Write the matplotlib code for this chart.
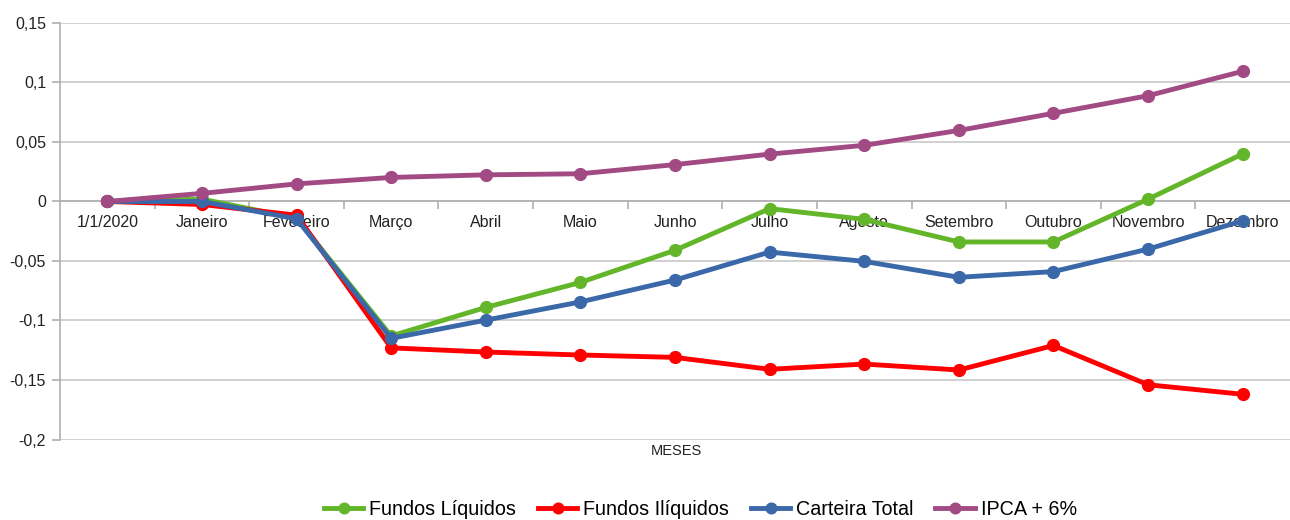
import numpy as np
import matplotlib
matplotlib.use("Agg")
import matplotlib.pyplot as plt
from matplotlib.ticker import FixedLocator, FuncFormatter

# categorias do eixo x
meses = ['1/1/2020', 'Janeiro', 'Fevereiro', 'Março', 'Abril', 'Maio', 'Junho',
         'Julho', 'Agosto', 'Setembro', 'Outubro', 'Novembro', 'Dezembro']

# series (rentabilidade acumulada)
fundos_liquidos = [0.0, 0.002, -0.014, -0.113, -0.089, -0.068, -0.041,
                   -0.006, -0.015, -0.034, -0.034, 0.002, 0.040]
fundos_iliquidos = [0.0, -0.0025, -0.0115, -0.123, -0.1265, -0.129, -0.131,
                    -0.141, -0.1366, -0.1416, -0.121, -0.154, -0.162]
carteira_total = [0.0, 0.0, -0.0145, -0.115, -0.0997, -0.0844, -0.066,
                  -0.0425, -0.0503, -0.0637, -0.0589, -0.040, -0.0162]
ipca_6 = [0.0, 0.0068, 0.0148, 0.0202, 0.0224, 0.0233, 0.031,
          0.0398, 0.0472, 0.0597, 0.0741, 0.0889, 0.1094]

plt.rcParams['font.family'] = ['Liberation Sans', 'DejaVu Sans']


def fmt_br(v, pos):
    v = round(v, 2) + 0.0
    if abs(v) < 1e-9:
        return '0'
    return ('%g' % v).replace('.', ',')


fig = plt.figure(figsize=(12.9, 5.2), dpi=100)
ax = fig.add_axes([0.0465, 0.1548, 0.9535, 0.801])

x = np.arange(len(meses))
series = [
    (fundos_liquidos, '#63b62a', 'Fundos Líquidos'),
    (fundos_iliquidos, '#ff0000', 'Fundos Ilíquidos'),
    (carteira_total, '#3a68a8', 'Carteira Total'),
    (ipca_6, '#a24a84', 'IPCA + 6%'),
]
for vals, cor, nome in series:
    ax.plot(x, vals, color=cor, lw=3.5, marker='o', ms=8.5, label=nome,
            solid_joinstyle='round', zorder=3)

ax.set_xlim(-0.5, len(meses) - 0.5)
ax.set_ylim(-0.2, 0.15)
ax.set_yticks(np.arange(-0.2, 0.151, 0.05))
ax.yaxis.set_major_formatter(FuncFormatter(fmt_br))
ax.grid(axis='y', color='#c8c8c8', lw=1.2, zorder=0)

ax.set_xticks(x)
ax.set_xticklabels(meses)
ax.xaxis.set_minor_locator(FixedLocator(np.arange(0.5, len(meses) - 1, 1)))
ax.tick_params(axis='x', which='major', length=0, pad=10, labelsize=11.5,
               labelcolor='#222222')
ax.tick_params(axis='x', which='minor', length=6, color='#b0b0b0', width=1.2)
ax.tick_params(axis='y', length=6, color='#b0b0b0', width=1.2, labelsize=11.5,
               labelcolor='#222222', pad=4)

ax.spines['top'].set_visible(False)
ax.spines['right'].set_visible(False)
ax.spines['left'].set_color('#b0b0b0')
ax.spines['left'].set_linewidth(1.2)
ax.spines['bottom'].set_position(('data', 0))
ax.spines['bottom'].set_color('#b0b0b0')
ax.spines['bottom'].set_linewidth(1.2)

fig.text(0.524, 0.132, 'MESES', ha='center', va='center', fontsize=10.5,
         color='#222222')

fig.legend(loc='center', bbox_to_anchor=(0.543, 0.021), ncol=4, frameon=False,
           fontsize=14.2, handlelength=2.0, handletextpad=0.3, columnspacing=1.1,
           markerscale=0.9)

fig.savefig('out.png', dpi=100, facecolor='white')
